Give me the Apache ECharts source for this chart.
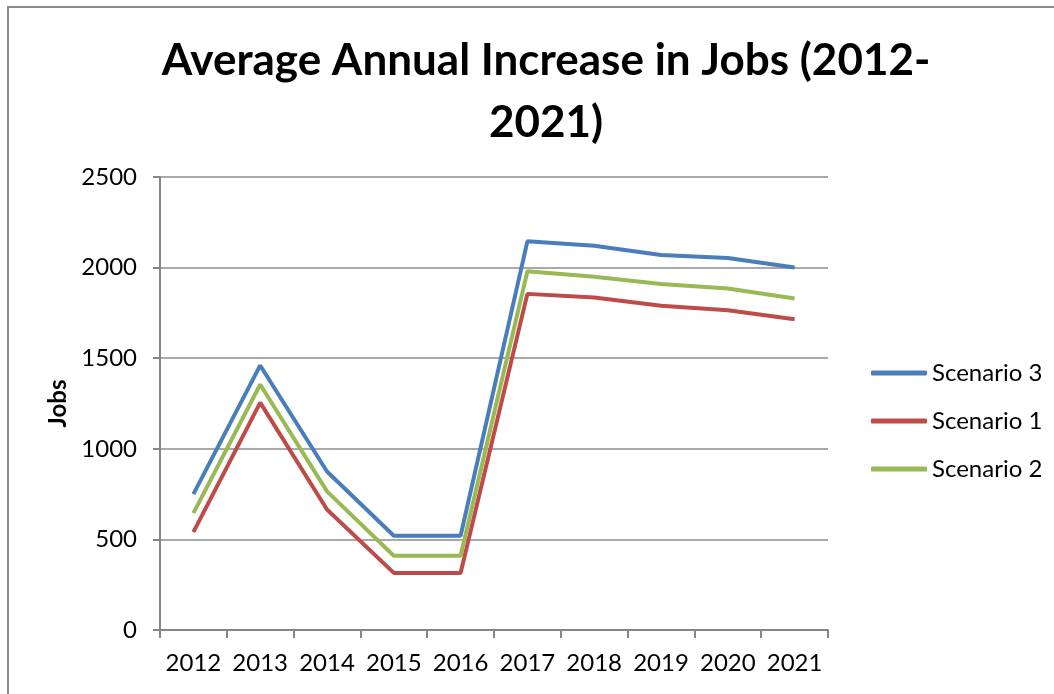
<!DOCTYPE html>
<html>
<head>
<meta charset="utf-8">
<script src="https://cdn.jsdelivr.net/npm/echarts@6/dist/echarts.min.js"></script>
<style>
    html, body { margin: 0; padding: 0; background: #fff; }
    #chart { width: 1054px; height: 694px; }
</style>
</head>
<body>
<div id="chart"></div>
<script>
var years = ['2012', '2013', '2014', '2015', '2016', '2017', '2018', '2019', '2020', '2021'];
var scenario3 = [750, 1460, 875, 520, 520, 2145, 2120, 2070, 2053, 2000];
var scenario1 = [540, 1255, 665, 315, 315, 1855, 1835, 1790, 1765, 1715];
var scenario2 = [645, 1355, 765, 410, 410, 1980, 1950, 1910, 1885, 1830];
var yTicks = [0, 500, 1000, 1500, 2000, 2500];

var font = 'Lato';

var chart = echarts.init(document.getElementById('chart'));

function lineSeries(name, data, color) {
    return {
        name: name,
        type: 'line',
        data: data,
        symbol: 'none',
        lineStyle: { color: color, width: 4 },
        itemStyle: { color: color },
        animation: false
    };
}

var option = {
    backgroundColor: '#fff',
    textStyle: { fontFamily: font },
    graphic: [{
        type: 'rect',
        shape: { x: 8, y: 7, width: 1100, height: 800 },
        style: { fill: 'none', stroke: '#8a8a8a', lineWidth: 2 },
        silent: true
    }],
    title: {
        text: 'Average Annual Increase in Jobs (2012-\n2021)',
        left: 541,
        top: 25,
        textAlign: 'center',
        textStyle: {
            fontFamily: font,
            fontWeight: 'bold',
            fontSize: 44,
            lineHeight: 62,
            color: '#000'
        }
    },
    legend: {
        orient: 'vertical',
        left: 866,
        top: 356,
        icon: 'roundRect',
        itemWidth: 56,
        itemHeight: 5,
        itemGap: 24,
        textStyle: { fontFamily: font, fontSize: 24, lineHeight: 24, color: '#000' },
        data: ['Scenario 3', 'Scenario 1', 'Scenario 2']
    },
    grid: { left: 160, right: 226, top: 177, bottom: 64 },
    xAxis: {
        type: 'category',
        data: years,
        boundaryGap: true,
        axisLine: { lineStyle: { color: '#868686', width: 2 } },
        axisTick: { show: true, length: 8, interval: 0, lineStyle: { color: '#868686', width: 2 } },
        axisLabel: { margin: 21, interval: 0, fontFamily: font, fontSize: 24, color: '#000' }
    },
    yAxis: {
        type: 'value',
        min: yTicks[0],
        max: yTicks[yTicks.length - 1],
        interval: 500,
        name: 'Jobs',
        nameLocation: 'middle',
        nameGap: 90,
        nameMoveOverlap: false,
        nameTextStyle: { fontFamily: font, fontWeight: 'bold', fontSize: 24, color: '#000' },
        axisLine: { show: true, lineStyle: { color: '#868686', width: 2 } },
        axisTick: { show: true, length: 7, lineStyle: { color: '#868686', width: 2 } },
        axisLabel: {
            margin: 23, fontFamily: font, fontSize: 24, color: '#000',
            formatter: function (v) { return String(v); }
        },
        splitLine: { lineStyle: { color: '#8c8c8c', width: 1.5 } }
    },
    series: [
        lineSeries('Scenario 3', scenario3, '#4A7EBB'),
        lineSeries('Scenario 1', scenario1, '#BE4B48'),
        lineSeries('Scenario 2', scenario2, '#98B954')
    ]
};

chart.setOption(option);
</script>
</body>
</html>
